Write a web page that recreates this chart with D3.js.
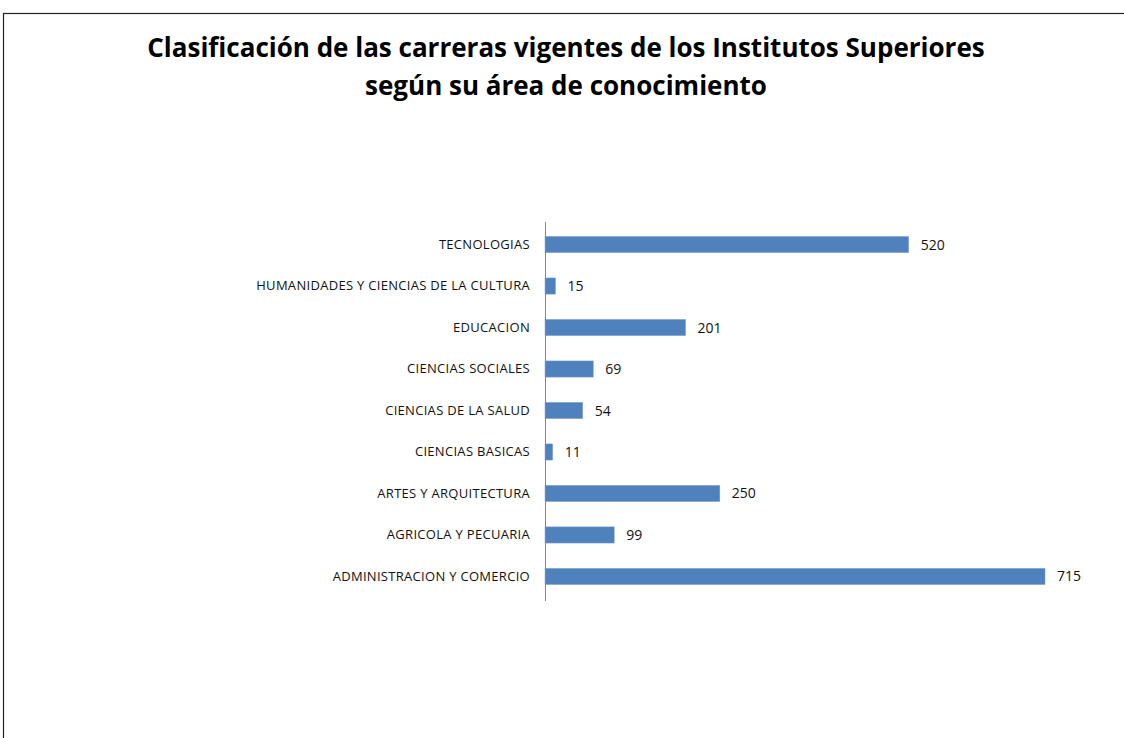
<!DOCTYPE html>
<html><head><meta charset="utf-8">
<script src="https://cdn.jsdelivr.net/npm/d3@7"></script>
<style>body{margin:0;background:#fff}svg{display:block}</style>
</head><body>
<svg id="c" width="1124" height="738"></svg>
<script>
const categories = ["TECNOLOGIAS","HUMANIDADES Y CIENCIAS DE LA CULTURA","EDUCACION","CIENCIAS SOCIALES","CIENCIAS DE LA SALUD","CIENCIAS BASICAS","ARTES Y ARQUITECTURA","AGRICOLA Y PECUARIA","ADMINISTRACION Y COMERCIO"];
const values = [520,15,201,69,54,11,250,99,715];
const titleLines = ["Clasificación de las carreras vigentes de los Institutos Superiores","según su área de conocimiento"];

const svg = d3.select("#c");
svg.append("rect").attr("x",3.5).attr("y",13.5).attr("width",1130).attr("height",740)
  .attr("fill","#fff").attr("stroke","#222").attr("stroke-width",1.2);

svg.append("g").selectAll("text").data(titleLines).join("text")
  .attr("x",566).attr("y",(d,i)=>57+i*38).attr("text-anchor","middle")
  .attr("font-family","'Open Sans', sans-serif").attr("font-weight","bold")
  .attr("font-size",26).attr("letter-spacing",0).attr("fill","#000").text(d=>d);

const x = d3.scaleLinear().domain([0,715]).range([545,1045]);
const y = d3.scaleBand().domain(categories).range([224,597]).paddingInner(0.61).paddingOuter(0.3);

svg.append("g").selectAll("rect").data(values).join("rect")
  .attr("x",x(0)).attr("y",(d,i)=>y(categories[i]))
  .attr("width",d=>x(d)-x(0)).attr("height",y.bandwidth())
  .attr("fill","#4f81bd").attr("stroke","#7ea2d0").attr("stroke-width",0.5);

const ax = svg.append("g").attr("transform",`translate(${x(0)},0)`)
  .call(d3.axisLeft(y).tickSize(0).tickPadding(15).tickSizeOuter(0));
ax.select(".domain").attr("stroke","#868686").attr("d",`M0.5,222V601`);
ax.selectAll("text").attr("font-family","'Open Sans', sans-serif").attr("font-size",13)
  .attr("letter-spacing",0.3).attr("fill","#111");

svg.append("g").selectAll("text").data(values).join("text")
  .attr("x",d=>x(d)+12).attr("y",(d,i)=>y(categories[i])+y.bandwidth()/2+5)
  .attr("font-family","'Open Sans', sans-serif").attr("font-size",14).attr("fill","#111")
  .text(d=>d);
</script>
</body></html>
